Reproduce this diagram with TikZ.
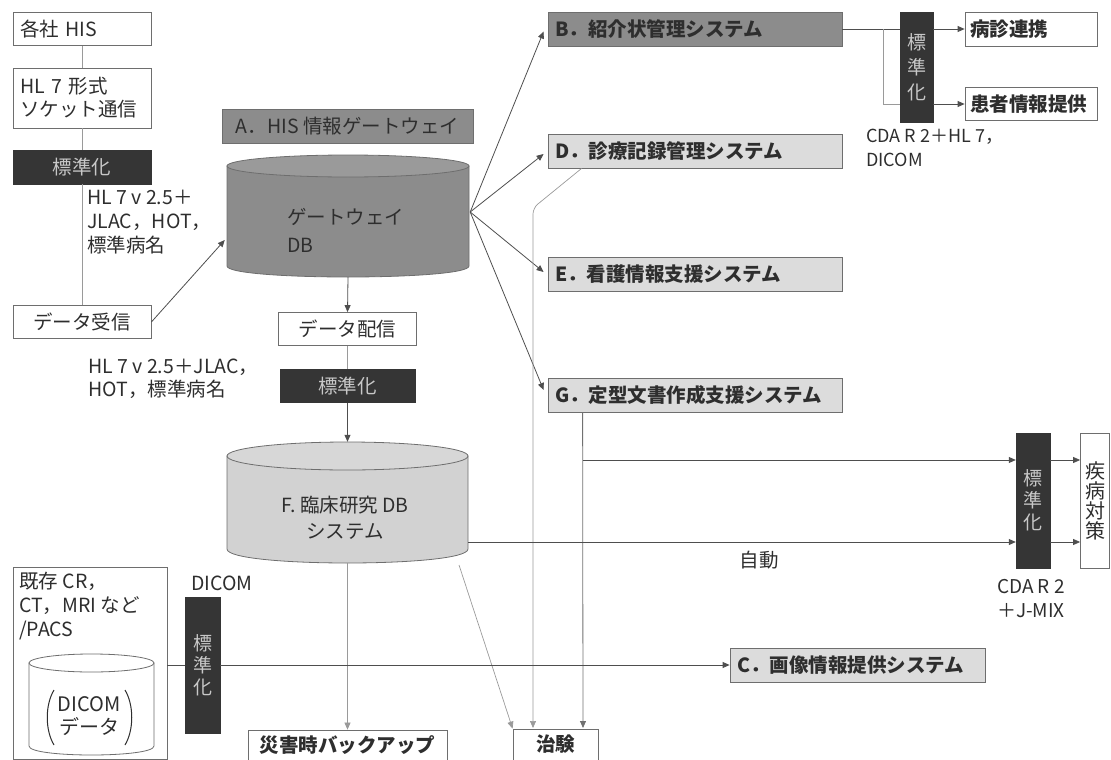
\documentclass[tikz,border=0pt]{standalone}
\usepackage{fontspec}
\setmainfont{Noto Sans CJK JP}
\usetikzlibrary{arrows.meta,calc}
\definecolor{txt}{HTML}{2E2E2E}
\definecolor{edge}{HTML}{6E6E6E}
\definecolor{darkc}{HTML}{353535}
\definecolor{midc}{HTML}{8C8C8C}
\definecolor{lightc}{HTML}{DCDCDC}
\definecolor{fdbc}{HTML}{D2D2D2}
\definecolor{lnc}{HTML}{4E4E4E}
\definecolor{lnl}{HTML}{9A9A9A}
\definecolor{stdtxt}{HTML}{C8C8C8}
\newcommand{\mycyl}[6]{%
  \filldraw[draw=edge, line width=0.8pt, fill=#6] (#1,#3) -- (#1,#4) .. controls (#1,#4+1.3333*#5) and (#2,#4+1.3333*#5) .. (#2,#4) -- (#2,#3) -- cycle;
  \filldraw[draw=edge, line width=0.8pt, fill=#6!88!white] ({(#1+#2)/2},#3) ellipse [x radius={(#2-#1)/2}, y radius=#5];
}
\begin{document}
\begin{tikzpicture}[x=1pt,y=-1pt,
  every node/.style={text=txt, inner sep=0pt},
  fs20/.style={font=\fontsize{19.5}{24}\selectfont},
  fs20b/.style={font=\fontsize{19.5}{24}\selectfont\bfseries},
  wbox/.style={draw=edge, fill=white, line width=0.8pt, fs20},
  darkbox/.style={draw=darkc, fill=darkc, text=stdtxt, fs20},
  vdark/.style={draw=darkc, fill=darkc, text=stdtxt, align=center, font=\fontsize{19}{25}\selectfont},
  sysbox/.style={draw=edge, fill=lightc, line width=0.8pt, fs20b, align=left, text width=280pt, inner xsep=7pt, minimum height=34pt},
  ln/.style={draw=lnc, line width=0.8pt},
  lnlight/.style={draw=lnl, line width=0.7pt},
  ar/.style={-{Triangle[length=7pt,width=6pt]}},
  lbl/.style={fs20, align=left}
]
\useasboundingbox (0,0) rectangle (1111,760);

% left column
\node[wbox, minimum width=138pt, minimum height=33pt, text width=124pt, inner xsep=7pt, align=left] (his) at (82,29) {各社 HIS};
\node[wbox, minimum width=138pt, minimum height=60pt, text width=124pt, inner xsep=7pt, align=left, font=\fontsize{19.5}{23}\selectfont] (hl7) at (82,98) {HL 7 形式\\ソケット通信};
\node[darkbox, minimum width=138pt, minimum height=34pt] (std1) at (82,167) {標準化};
\node[wbox, minimum width=138pt, minimum height=33pt] (recv) at (82,322) {データ受信};
\node[lbl, anchor=north west] (l1) at (87,190) {HL 7 v 2.5＋\\JLAC，HOT，\\標準病名};

% gateway
\node[draw=edge, fill=midc, line width=0.8pt, minimum width=251pt, minimum height=34pt, fs20] (lblA) at (347.5,126) {A．HIS 情報ゲートウェイ};
\node[minimum width=242pt, minimum height=122pt] (gw) at (348,216) {};
\mycyl{227}{469}{166}{266}{11}{midc}
\node[anchor=west, fs20] (gwt1) at (287,217) {ゲートウェイ};
\node[anchor=west, fs20] (gwt2) at (287,245) {DB};

\node[wbox, minimum width=138pt, minimum height=33pt] (dist) at (347.5,329) {データ配信};
\node[lbl, anchor=north west, font=\fontsize{19.5}{23}\selectfont] (l2) at (88,359) {HL 7 v 2.5＋JLAC，\\HOT，標準病名};
\node[darkbox, minimum width=135pt, minimum height=33pt] (std2) at (347.5,386) {標準化};

% F cylinder
\node[minimum width=241pt, minimum height=121pt] (fdb) at (347.5,502.5) {};
\mycyl{227}{468}{456}{549}{14}{fdbc}
\node[align=center, font=\fontsize{19.5}{26}\selectfont] (ft) at (345,518) {F. 臨床研究 DB\\システム};

% systems
\node[sysbox, fill=midc] (B) at (695,29.5) {B．紹介状管理システム};
\node[sysbox] (D) at (695,151) {D．診療記録管理システム};
\node[sysbox] (E) at (695,274) {E．看護情報支援システム};
\node[sysbox] (G) at (695,395) {G．定型文書作成支援システム};
\node[sysbox, text width=241pt] (C) at (857.5,665) {C．画像情報提供システム};

% top right
\node[vdark, minimum width=33pt, minimum height=110pt] (stdB) at (916.5,67) {標\\準\\化};
\node[draw=edge, fill=white, line width=0.8pt, minimum width=132pt, minimum height=34pt, fs20b, text width=122pt, inner xsep=5pt, align=left] (hd) at (1031,29) {病診連携};
\node[draw=edge, fill=white, line width=0.8pt, minimum width=132pt, minimum height=33pt, fs20b, text width=122pt, inner xsep=5pt, align=left] (pt) at (1031,104) {患者情報提供};
\node[anchor=north west, align=left, font=\fontsize{18}{24}\selectfont] (cda1) at (866,129) {CDA R 2＋HL 7，\\DICOM};

% right
\node[vdark, minimum width=34pt, minimum height=135pt, font=\fontsize{19}{22}\selectfont] (stdK) at (1033,500.5) {標\\準\\化};
\node[draw=edge, fill=white, line width=0.8pt, minimum width=29pt, minimum height=135pt, align=center, font=\fontsize{20}{20}\selectfont] (sk) at (1095,500.5) {疾\\病\\対\\策};
\node[align=center, font=\fontsize{19}{24}\selectfont] (cda2) at (1031,599) {CDA R 2\\＋J-MIX};
\node[fs20] (auto) at (759,560) {自動};

% bottom left
\node[wbox, minimum width=154pt, minimum height=192pt] (pacs) at (90,663) {};
\node[lbl, anchor=north west] (pacst) at (19,572) {既存 CR，\\CT，MRI など\\/PACS};
\mycyl{29}{154}{663}{746}{9}{white}
\draw[draw=txt, line width=1pt] (54,690) .. controls (45,705) and (45,730) .. (54,745);
\draw[draw=txt, line width=1pt] (125,690) .. controls (134,705) and (134,730) .. (125,745);
\node[align=center, font=\fontsize{20}{23}\selectfont] (dicomdata) at (89,716) {DICOM\\データ};
\node[fs20] (dicomlbl) at (222,583) {DICOM};
\node[vdark, minimum width=35pt, minimum height=136pt, font=\fontsize{19}{22}\selectfont] (stdP) at (202.5,665) {標\\準\\化};

% bottom boxes
\node[wbox, minimum width=199pt, minimum height=30pt, fs20b] (backup) at (347.5,745) {災害時バックアップ};
\node[wbox, minimum width=85pt, minimum height=31pt, fs20b] (chiken) at (555.5,744.5) {治験};

% connectors left
\draw[ln, draw=lnl] (his.south) -- (hl7.north);
\draw[ln, draw=lnl] (hl7.south) -- (std1.north);
\draw[ln, draw=lnl] (std1.south) -- (recv.north);
\draw[ln, ar] (recv.east) -- ($(gw.west)+(-2,24)$);
\draw[ln, ar] (gw.south) -- (dist.north);
\draw[ln, draw=lnl] (dist.south) -- (std2.north);
\draw[ln, ar] (std2.south) -- (fdb.north);

% fan
\coordinate (fan) at ($(gw.east)+(1,-4)$);
\draw[ln, ar] (fan) -- ($(B.west)+(-4,2)$);
\draw[ln, ar] (fan) -- ($(D.west)+(-4,3)$);
\draw[ln, ar] (fan) -- ($(E.west)+(-4,-2)$);
\draw[ln, ar] (fan) -- ($(G.west)+(-4,-5)$);

% B to right
\draw[ln] (B.east) -- (B.east -| stdB.west);
\draw[ln, ar] (stdB.east |- hd.west) -- (hd.west);
\coordinate (brB) at (883,29.5);
\draw[lnlight] (brB) -- (brB |- pt.west) -- (stdB.west |- pt.west);
\draw[ln, ar] (stdB.east |- pt.west) -- (pt.west);

% D line to chiken
\draw[lnlight, ar, rounded corners=6pt] ($(D.south west)+(34,0)$) -- (533,208) -- (533,728);
% G line
\coordinate (gd) at ($(G.south west)+(35,0)$);
\draw[ln, draw=lnc!80!white, ar] (gd) -- (583,728);
\coordinate (gh) at (583,460);
\draw[ln, ar] (gh) -- (stdK.west |- gh);
\coordinate (fh) at (468,542);
\draw[ln, ar] (fh) -- (stdK.west |- fh);
\draw[ln, ar] (stdK.east |- gh) -- (sk.west |- gh);
\draw[ln, ar] (stdK.east |- fh) -- (sk.west |- fh);

% F to bottom
\draw[lnlight, ar] (fdb.south) -- (backup.north);
\draw[lnlight, ar] (459,565) -- (chiken.north west);

% PACS
\draw[ln] (pacs.east |- stdP.west) -- (stdP.west);
\draw[ln, ar] (stdP.east) -- (C.west);
\end{tikzpicture}
\end{document}
